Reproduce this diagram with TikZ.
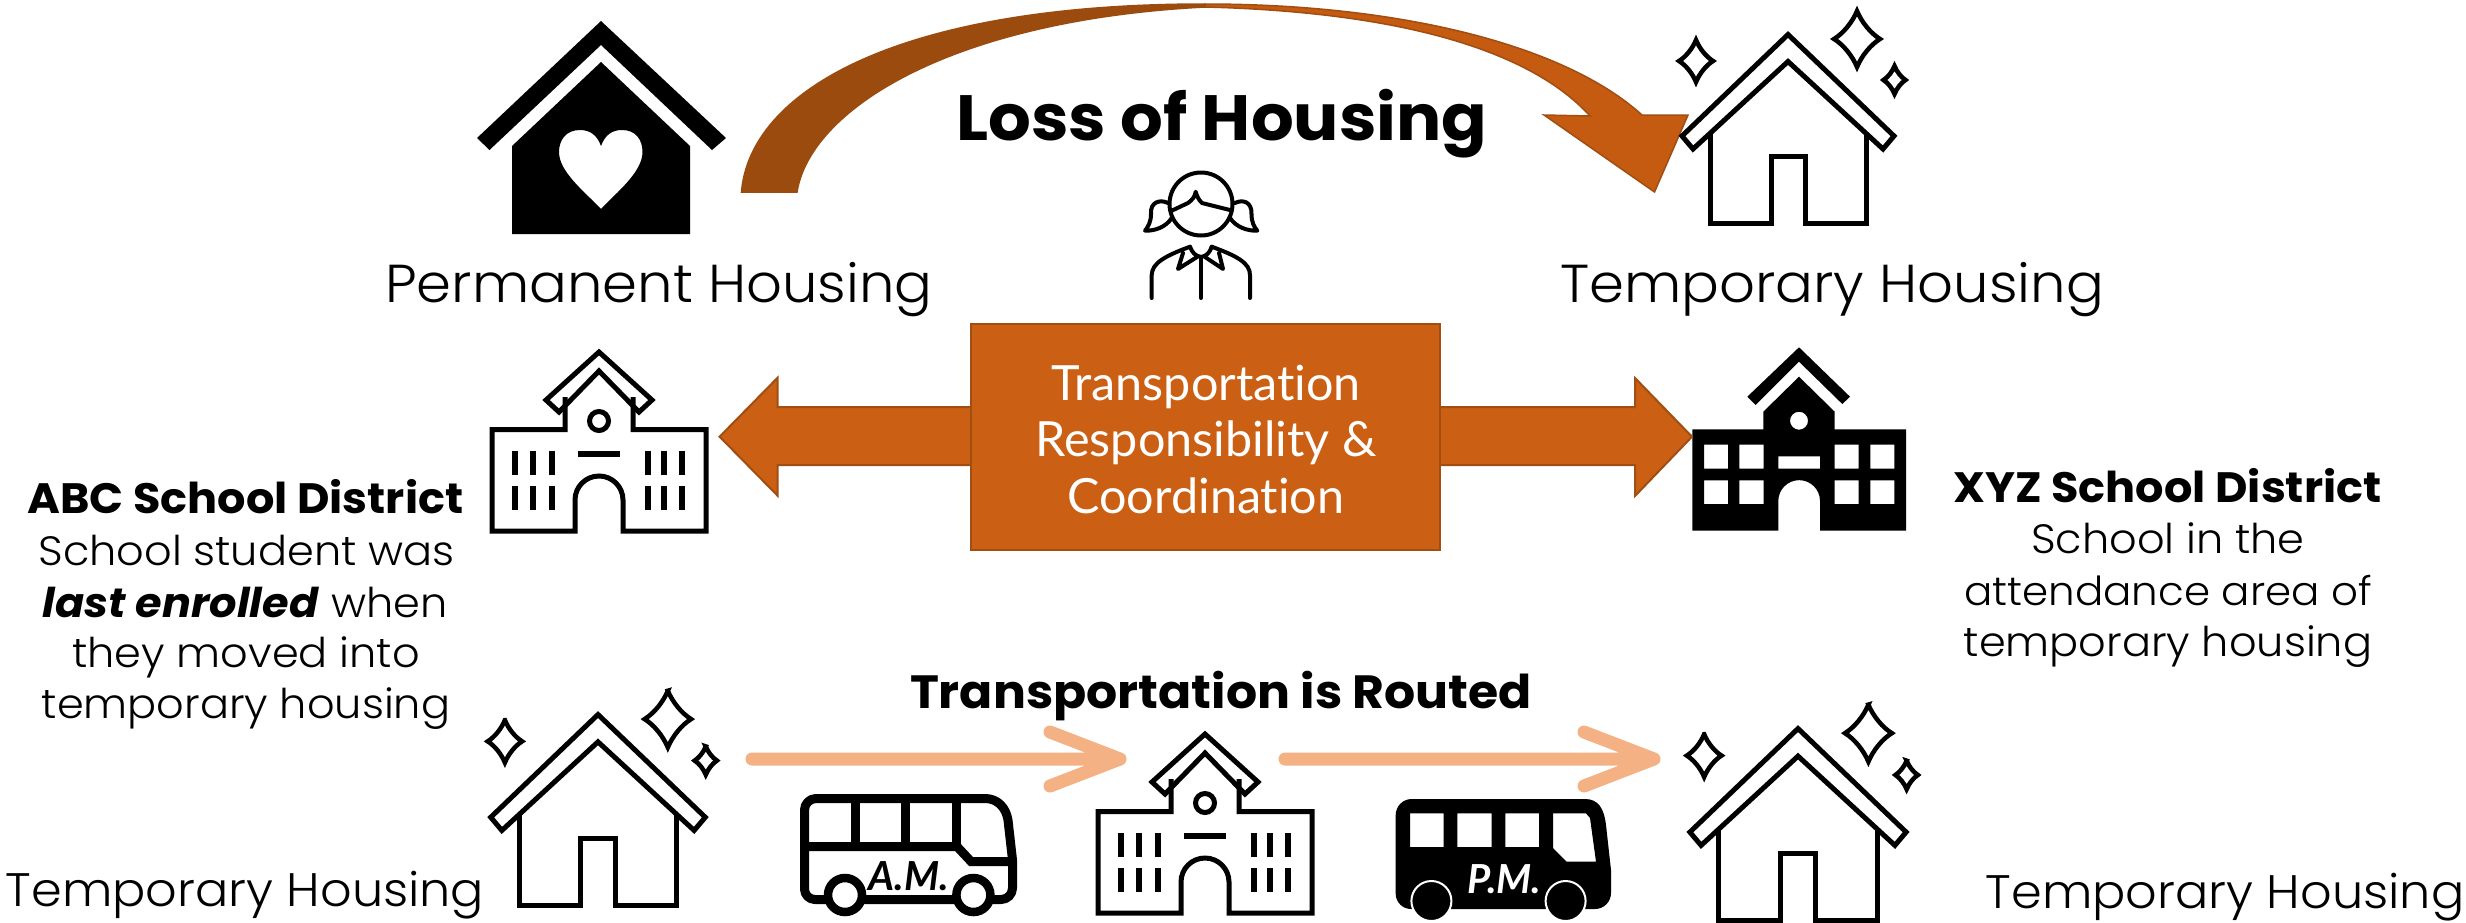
\documentclass[tikz,border=0pt]{standalone}
\usepackage{fontspec}
\setmainfont[FakeStretch=1.05]{Poppins Light}[BoldFont={Poppins Bold},ItalicFont={Poppins Light Italic},BoldItalicFont={Poppins Bold Italic}]
\newfontfamily\lato[Ligatures=NoCommon]{Lato}
\definecolor{org}{HTML}{C55A11}
\definecolor{orgbox}{HTML}{CB5F13}
\definecolor{brn}{HTML}{9C4B0F}
\definecolor{edge}{HTML}{A04E12}
\definecolor{pale}{HTML}{F4B183}
\tikzset{
 x=1pt,y=-1pt,
 ln/.style={draw=black,line width=5pt,miter limit=20},
 sp/.style={draw=black,line width=4.5pt,miter limit=6},
 lbl/.style={inner sep=0pt,anchor=base,font=\fontsize{53.4}{54}\selectfont},
 sub/.style={inner sep=0pt,anchor=base,font=\fontsize{41}{41}\selectfont},
 head/.style={inner sep=0pt,anchor=base,font=\fontsize{42.5}{42}\selectfont\bfseries},
 route/.style={draw=pale,line width=13pt,line cap=round,line join=round},
 double/.style={fill=orgbox,draw=edge,line width=2pt},
}
\newcommand{\spk}[4]{\draw[sp] (#1,#2-#4) .. controls (#1+.2*#3,#2-.6*#4) and (#1+.6*#3,#2-.2*#4) .. (#1+#3,#2)
 .. controls (#1+.6*#3,#2+.2*#4) and (#1+.2*#3,#2+.6*#4) .. (#1,#2+#4)
 .. controls (#1-.2*#3,#2+.6*#4) and (#1-.6*#3,#2+.2*#4) .. (#1-#3,#2)
 .. controls (#1-.6*#3,#2-.2*#4) and (#1-.2*#3,#2-.6*#4) .. cycle;}
\newcommand{\thouse}[3]{\begin{scope}[shift={(#1,#2)},scale=#3]
 \draw[ln,line join=miter] (0,3.5)--(-106,105)--(-95,118)--(0,30.5)--(95,118)--(106,105)--cycle;
 \draw[ln,line join=miter] (-78,103)--(-78,192)--(-17,192)--(-17,125.5)--(17,125.5)--(17,192)--(78,192)--(78,103);
 \spk{-92}{30}{17}{21}\spk{69}{8}{23}{28}\spk{106.5}{49}{11}{14}
\end{scope}}
\newcommand{\oschool}[2]{\begin{scope}[shift={(#1,#2)}]
 \draw[ln,line join=miter] (0,5)--(-53,53)--(-40,65)--(0,24)--(40,65)--(53,53)--cycle;
 \draw[ln,line join=miter] (-34,50)--(-34,82.5)--(-107,82.5)--(-107,184)--(-24,184)--(-24,153) arc[start angle=180,end angle=360,radius=24] --(24,184)--(107,184)--(107,82.5)--(34,82.5)--(34,50);
 \draw[black,line width=5pt] (0,74) circle[radius=9.5];
 \fill (-21,104) rectangle (21,110);
 \foreach \q in {-84,-66,-47,49,65,83}{\fill (\q-3.2,104) rectangle (\q+3.2,128);\fill (\q-3.2,139) rectangle (\q+3.2,163);}
\end{scope}}
\begin{document}
\begin{tikzpicture}
\useasboundingbox (0,0) rectangle (2466,922);
% permanent house
\fill (601,21)--(477,138)--(489.5,150)--(601,45)--(712,150)--(726,138)--cycle;
\fill[even odd rule] (601,62)--(512,146)--(512,234)--(690,234)--(690,146)--cycle
 (601,146) .. controls (597,135) and (590,130) .. (580,130) .. controls (566,130) and (559,140) .. (559,152) .. controls (559,172) and (585,192) .. (601,209) .. controls (617,192) and (642.5,172) .. (642.5,152) .. controls (642.5,140) and (636,130) .. (622,130) .. controls (612,130) and (605,135) .. (601,146) -- cycle;
% curved arrow
\path[fill=org,draw=edge,line width=1.5pt] (1205,4) .. controls (1400,4) and (1565,45) .. (1642,115) -- (1688,115) -- (1654.5,192) -- (1544,115) -- (1590,116) .. controls (1530,50) and (1400,12) .. (1205,7) -- cycle;
\path[fill=brn,draw=brn,line width=1.5pt] (741.5,192) .. controls (750,90) and (900,4) .. (1205,4) -- (1205,7) .. controls (950,20) and (810,110) .. (797,192) -- cycle;
% temporary houses
\thouse{1788}{31}{1}
\thouse{598}{711}{1.012}
\thouse{1798}{725}{1.02}
% schools
\oschool{599}{347}
\oschool{1205}{729}
% black school
\fill (1799,347.3)--(1747.3,396.7)--(1755.7,405)--(1799,361.7)--(1842.3,404)--(1850,396.7)--cycle;
\fill[even odd rule] (1799,376.7)--(1763.3,411.7)--(1763.3,429.3)--(1692.3,429.3)--(1692.3,530.7)--(1778.3,530.7)--(1778.3,501) arc[start angle=180,end angle=360,radius=20.85]--(1820,530.7)--(1906,530.7)--(1906,429.3)--(1834.7,429.3)--(1834.7,411.7)--cycle
 (1808,420.7) arc[start angle=0,end angle=360,radius=9]
 (1704,444.7) rectangle (1728,468.7) (1739.3,444.7) rectangle (1763.7,468.7) (1834.7,444.7) rectangle (1858.7,468.7) (1870.3,444.7) rectangle (1894.3,468.7)
 (1704,480.3) rectangle (1728,504) (1739.3,480.3) rectangle (1763.7,504) (1834.7,480.3) rectangle (1858.7,504) (1870.3,480.3) rectangle (1894.3,504)
 (1778.3,456.3) rectangle (1820,468.7);
% double arrow and box
\path[double] (719.6,436.7)--(777.6,377.7)--(777.6,407)--(1635,407)--(1635,378)--(1692,436.7)--(1635,496)--(1635,465)--(777.6,465)--(777.6,495.7)--cycle;
\node[double,minimum width=469pt,minimum height=226pt,inner sep=0pt] (box) at (1205.5,437) {};
\node[inner sep=0pt,anchor=base,text=white,font=\lato\fontsize{48.5}{48.5}\selectfont] (t1) at (1206,400) {Transportation};
\node[inner sep=0pt,anchor=base,text=white,font=\lato\fontsize{48.5}{48.5}\selectfont] (t2) at (1206,456) {Responsibility \&};
\node[inner sep=0pt,anchor=base,text=white,font=\lato\fontsize{48.5}{48.5}\selectfont] (t3) at (1206,513) {Coordination};
% route arrows
\coordinate (r1a) at (752,759); \coordinate (r1b) at (1120,759); \coordinate (r1c) at (1050,732); \coordinate (r1d) at (1050,786);
\draw[route] (r1a)--(r1b) (r1c)--(r1b)--(r1d);
\coordinate (r2a) at (1285,759); \coordinate (r2b) at (1654,759); \coordinate (r2c) at (1584,732); \coordinate (r2d) at (1584,786);
\draw[route] (r2a)--(r2b) (r2c)--(r2b)--(r2d);
% bus AM
\draw[black,line width=9pt,line join=round] (804.5,810) arc[start angle=180,end angle=270,radius=11.5] -- (985,798.5) .. controls (998,798.5) and (1006,808) .. (1008,820) -- (1012.5,860) -- (1012.5,888) arc[start angle=0,end angle=90,radius=11.5] -- (815,899.5) arc[start angle=90,end angle=180,radius=10.5] -- cycle;
\draw[black,line width=9pt] (804.5,846.5)--(957,846.5)--(971,861.5)--(1012,861.5);
\draw[black,line width=9pt] (855,798)--(855,846) (905.5,798)--(905.5,846) (956.5,798)--(956.5,846);
\foreach \q in {845,973.4}{\draw[black,fill=white,line width=8.5pt] (\q,895) circle[radius=17];}
\node[inner sep=0pt,anchor=base,font=\lato\fontsize{40}{40}\selectfont\itshape\bfseries] (am) at (908.6,890.5) {A.M.};
% bus PM
\fill[even odd rule] (1395.7,815) arc[start angle=180,end angle=270,radius=16] -- (1585,799) .. controls (1598,799) and (1604,808) .. (1606,825) -- (1611,870) -- (1611,893) arc[start angle=0,end angle=90,radius=16] -- (1411,909) arc[start angle=90,end angle=180,radius=15.3] -- cycle
 (1410,813.3) rectangle (1443.7,847) (1457.4,813.3) rectangle (1491.6,847) (1505.4,813.3) rectangle (1539,847)
 (1553,813.3)--(1586,813.3)--(1590,818)--(1596,861.7)--(1566.6,861.7)--(1553,848)--cycle;
\foreach \q in {1431.4,1565.6}{\draw[white,fill=black,line width=2pt] (\q,901) circle[radius=20];}
\node[inner sep=0pt,anchor=base,text=white,font=\lato\fontsize{40}{40}\selectfont\itshape\bfseries] (pm) at (1504.4,893.5) {P.M.};
% girl
\begin{scope}[black,line width=4pt,line join=round,line cap=round]
\draw (1201,204) circle[radius=31.5];
\draw (1171.7,210.7) -- (1188,203) .. controls (1192,200) and (1195,197) .. (1195.7,191.7) .. controls (1197,197) and (1199,200) .. (1202,203) -- (1230,210);
\draw (1168,203) .. controls (1160,199) and (1150,202) .. (1151,214) .. controls (1151,222) and (1148,227) .. (1145,230.7) .. controls (1155,231) and (1166,227) .. (1171.7,218);
\draw (1235,203) .. controls (1243,199) and (1252,202) .. (1251.5,214) .. controls (1251.5,222) and (1254,227) .. (1257.3,230.7) .. controls (1247,231) and (1236,227) .. (1230,218);
\draw (1151.7,298)--(1151.7,275) .. controls (1152,263) and (1165,256) .. (1190,246.7);
\draw (1250,298)--(1250,275) .. controls (1250,263) and (1237,256) .. (1211.7,246.7);
\draw (1190,246.7) .. controls (1192,252) and (1195,256) .. (1201,257) .. controls (1207,256) and (1210,252) .. (1211.7,246.7);
\draw (1183,253)--(1178,269)--(1197,257) (1219,253)--(1223,269)--(1205,257);
\draw (1201,257)--(1201,298);
\end{scope}
% labels
\node[head,font=\fontsize{64}{64}\selectfont\bfseries] (loss) at (1222,140) {Loss of Housing};
\node[lbl] (perm) at (659,302) {Permanent Housing};
\node[lbl] (temp) at (1832,302) {Temporary Housing};
\node[head,font=\fontsize{46.6}{46}\selectfont\bfseries] (route) at (1221,708) {Transportation is Routed};
\node[head] (abc) at (245.5,513) {ABC School District};
\node[sub] (a1) at (246.5,565) {School student was};
\node[sub] (a2) at (245,617) {\textbf{\textit{last enrolled}} when};
\node[sub] (a3) at (246,667) {they moved into};
\node[sub] (a4) at (246,718) {temporary housing};
\node[head] (xyz) at (2167.5,502) {XYZ School District};
\node[sub] (x1) at (2168,553) {School in the};
\node[sub,font=\fontsize{40}{40}\selectfont] (x2) at (2168,605) {attendance area of};
\node[sub] (x3) at (2168,656) {temporary housing};
\node[sub,font=\fontsize{47}{47}\selectfont] (bl) at (245,906) {Temporary Housing};
\node[sub,font=\fontsize{47}{47}\selectfont] (br) at (2225,908) {Temporary Housing};
\end{tikzpicture}
\end{document}
